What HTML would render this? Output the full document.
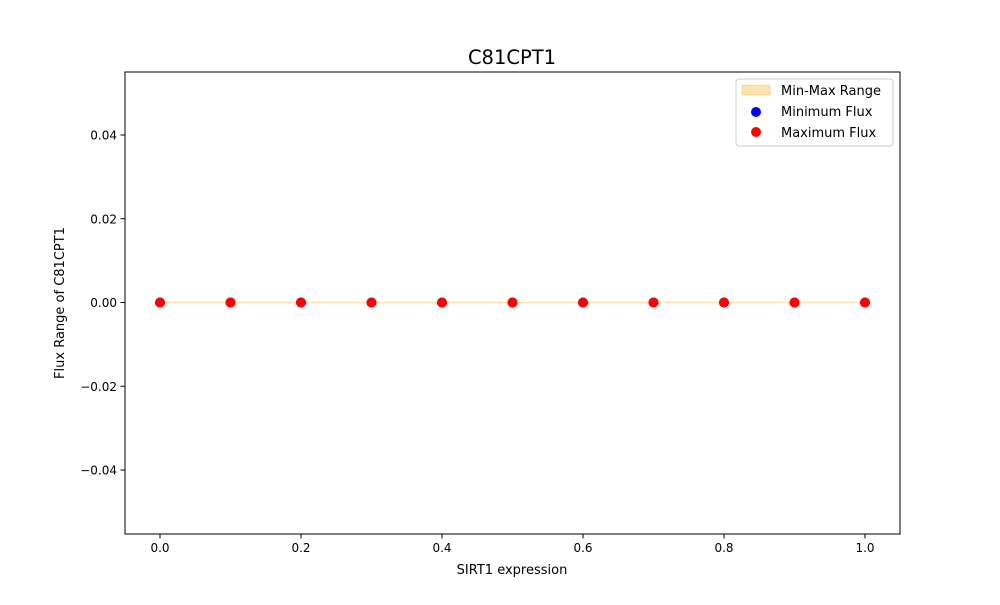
<!DOCTYPE html>
<html><head><meta charset="utf-8"><style>
body{margin:0;background:#fff;font-family:"Liberation Sans","DejaVu Sans",sans-serif;}
svg text{font-family:"DejaVu Sans","Liberation Sans",sans-serif;}
</style></head><body>
<svg id="chart" width="1000" height="600" xmlns="http://www.w3.org/2000/svg">
<rect width="1000" height="600" fill="#fff"/>
<g id="g"></g>
</svg>
<script>
const xValues=[0,0.1,0.2,0.3,0.4,0.5,0.6,0.7,0.8,0.9,1.0];
const minFlux=[0,0,0,0,0,0,0,0,0,0,0];
const maxFlux=[0,0,0,0,0,0,0,0,0,0,0];
const xTicks=[0,0.2,0.4,0.6,0.8,1.0];
const xTickLabels=["0.0","0.2","0.4","0.6","0.8","1.0"];
const yTicks=[-0.04,-0.02,0,0.02,0.04];
const yTickLabels=["−0.04","−0.02","0.00","0.02","0.04"];
const L=125,R=900,T=72,B=534;
const xs=v=>160+(v-0)*705;
const ys=v=>302.5-v*4187.5;
const NS="http://www.w3.org/2000/svg";
const g=document.getElementById('g');
function mk(t,a,txt){const e=document.createElementNS(NS,t);for(const k in a)e.setAttribute(k,a[k]);if(txt!==undefined)e.textContent=txt;g.appendChild(e);return e;}
// fill band
let pts=xValues.map((x,i)=>xs(x)+','+ys(maxFlux[i])).concat(xValues.slice().reverse().map((x,j)=>{const i=xValues.length-1-j;return xs(x)+','+ys(minFlux[i]);}));
let band=mk('polygon',{points:pts.join(' '),fill:'#ffa500','fill-opacity':0.3,stroke:'#ffa500','stroke-opacity':0.3,'stroke-width':1.5});


xValues.forEach((x,i)=>{
 const c=mk('circle',{cx:xs(x),cy:ys(minFlux[i]),r:5,fill:'#0000ff'});
 
 
});
xValues.forEach((x,i)=>{
 const c=mk('circle',{cx:xs(x),cy:ys(maxFlux[i]),r:5,fill:'#ff0000'});
 
 
});
const frame=mk('rect',{x:L,y:T,width:R-L,height:B-T,fill:'none',stroke:'#000','stroke-width':1});


xTicks.forEach((v,i)=>{
 mk('line',{x1:xs(v),x2:xs(v),y1:B,y2:B+4.5,stroke:'#000'});
 const t=mk('text',{x:xs(v),y:B+18,'font-size':12,'text-anchor':'middle'},xTickLabels[i]);
 
 
});
yTicks.forEach((v,i)=>{
 mk('line',{x1:L,x2:L-4.5,y1:ys(v),y2:ys(v),stroke:'#000'});
 const t=mk('text',{x:L-8,y:ys(v)+4.5,'font-size':12,'text-anchor':'end'},yTickLabels[i]);
 
 
});
let t=mk('text',{x:512,y:64,'font-size':19.5,'text-anchor':'middle'},'C81CPT1');


t=mk('text',{x:512,y:574,'font-size':13,'text-anchor':'middle'},'SIRT1 expression');


t=mk('text',{x:64,y:303,'font-size':13,'text-anchor':'middle',transform:'rotate(-90 64 303)'},'Flux Range of C81CPT1');


// legend
const lg=mk('rect',{x:736,y:79,width:157,height:67,rx:3,fill:'#fff','fill-opacity':0.8,stroke:'#ccc'});


mk('rect',{x:742,y:85,width:28,height:10,fill:'#ffa500','fill-opacity':0.3,stroke:'#ffa500','stroke-opacity':0.3});
t=mk('text',{x:781,y:95,'font-size':13},'Min-Max Range');


mk('circle',{cx:756,cy:112,r:5,fill:'#0000ff'});
t=mk('text',{x:781,y:116,'font-size':13},'Minimum Flux');


mk('circle',{cx:756,cy:132,r:5,fill:'#ff0000'});
t=mk('text',{x:781,y:137,'font-size':13},'Maximum Flux');


</script>
</body></html>
